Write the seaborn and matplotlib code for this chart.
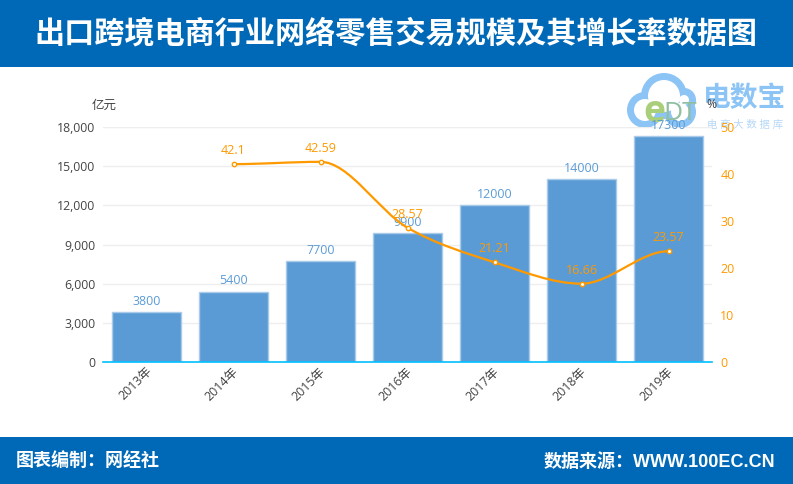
import matplotlib
matplotlib.use('Agg')
import matplotlib.pyplot as plt
from matplotlib.patches import Circle, PathPatch, Rectangle
from matplotlib.path import Path
from matplotlib.transforms import ScaledTranslation
import pandas as pd
import seaborn as sns

years = ['2013年', '2014年', '2015年', '2016年', '2017年', '2018年', '2019年']
trade_scale = [3800, 5400, 7700, 9900, 12000, 14000, 17300]
growth_years = [1, 2, 3, 4, 5, 6]
growth_rate = [42.1, 42.59, 28.57, 21.21, 16.66, 23.57]
growth_labels = ['42.1', '42.59', '28.57', '21.21', '16.66', '23.57']
left_ticks = [0, 3000, 6000, 9000, 12000, 15000, 18000]
right_ticks = [0, 10, 20, 30, 40, 50]

title = '出口跨境电商行业网络零售交易规模及其增长率数据图'
footer_left = '图表编制：网经社'
footer_right = '数据来源：WWW.100EC.CN'

W, H = 793, 484
BLUE = '#0069B7'
BAR = '#5B9BD5'
ORANGE = '#FF9900'
GREY = '#444444'
LABEL_FONT = ['Open Sans', 'Noto Sans CJK SC']
FOOT_FONT = ['Liberation Sans', 'Noto Sans CJK SC']

sns.set_theme(style='white')
plt.rcParams['font.family'] = LABEL_FONT


def smooth_path(xs, ys, k=0.33):
    # bezier through the points, flat at local peaks like the original line
    verts = [(xs[0], ys[0])]
    codes = [Path.MOVETO]
    tang = []
    for i in range(len(xs)):
        if i == 0 or i == len(xs) - 1:
            tang.append(0.0)
        elif (ys[i] - ys[i - 1]) * (ys[i + 1] - ys[i]) <= 0:
            tang.append(0.0)
        else:
            tang.append((ys[i + 1] - ys[i - 1]) / 2)
    for i in range(len(xs) - 1):
        dx = xs[i + 1] - xs[i]
        verts += [(xs[i] + k * dx, ys[i] + k * tang[i]),
                  (xs[i + 1] - k * dx, ys[i + 1] - k * tang[i + 1]),
                  (xs[i + 1], ys[i + 1])]
        codes += [Path.CURVE4] * 3
    return Path(verts, codes)


fig = plt.figure(figsize=(W / 100, H / 100), dpi=100, facecolor='white')

# page furniture and logo, in pixel coordinates
bg = fig.add_axes([0, 0, 1, 1], zorder=0)
bg.set_xlim(0, W)
bg.set_ylim(H, 0)
bg.axis('off')
bg.add_patch(Rectangle((0, 0), W, 67, color=BLUE, lw=0))
bg.add_patch(Rectangle((0, 437), W, 47, color=BLUE, lw=0))
bg.text(396, 33, title, color='white', fontsize=21.7, fontweight='bold', ha='center', va='center',
        family='Noto Sans CJK SC')
bg.text(16, 462, footer_left, color='white', fontsize=13, fontweight='bold', ha='left', va='center',
        family=FOOT_FONT)
bg.text(775, 462, footer_right, color='white', fontsize=13, fontweight='bold', ha='right', va='center',
        family=FOOT_FONT)
bg.text(92, 105, '亿元', color=GREY, fontsize=9, ha='left', va='center')

cloud = '#8CC4F5'
lobes = [(645, 110, 18), (664, 96, 23), (684, 100, 12), (680, 112, 16)]
for cx, cy, r in lobes:
    bg.add_patch(Circle((cx, cy), r, color=cloud, lw=0))
for cx, cy, r in lobes:
    bg.add_patch(Circle((cx, cy), r - 7, color='white', lw=0))
bg.add_patch(Rectangle((620, 127), 90, 8, color='white', lw=0))
bg.text(654, 112, 'e', color='#A9CF7A', fontsize=27, fontweight='bold', ha='center', va='center')
bg.text(680, 114, 'DT', color='#8FBFA0', fontsize=19, ha='center', va='center')
bg.text(745, 98, '电数宝', color=cloud, fontsize=20, fontweight='bold', ha='center', va='center',
        family='Noto Sans CJK SC')
bg.text(745, 125, '电 商 大 数 据 库', color='#B5D8F7', fontsize=7.5, ha='center', va='center')

# plot area, 18000 sits at y=127 and 0 at y=362
ax = fig.add_axes([103 / W, 1 - 362 / H, 609 / W, 235 / H], zorder=1)
ax.patch.set_alpha(0)
df = pd.DataFrame({'year': years, 'scale': trade_scale})
sns.barplot(data=df, x='year', y='scale', color=BAR, saturation=1, width=0.8,
            edgecolor='#A9CBEA', linewidth=1, ax=ax, zorder=2)
ax.set_xlim(-0.5, 6.5)
ax.set_ylim(0, 18000)
ax.set_yticks(left_ticks)
ax.set_yticklabels([f'{v:,}' for v in left_ticks])
ax.set_xlabel('')
ax.set_ylabel('')
ax.grid(axis='y', color='#EEEEEE', lw=1)
ax.set_axisbelow(True)
for side in ['top', 'left', 'right']:
    ax.spines[side].set_visible(False)
ax.spines['bottom'].set_color('#00BFFF')
ax.spines['bottom'].set_linewidth(1.2)
ax.spines['bottom'].set_zorder(5)
ax.tick_params(axis='y', length=0, pad=5.5, labelsize=8.8, labelcolor=GREY)
ax.tick_params(axis='x', length=0, pad=2, labelsize=9, labelcolor=GREY)
nudge = ScaledTranslation(-1 / 72, 0, fig.dpi_scale_trans)
for lab in ax.get_xticklabels():
    lab.set_rotation(45)
    lab.set_ha('right')
    lab.set_rotation_mode('anchor')
    lab.set_transform(lab.get_transform() + nudge)
for i, v in enumerate(trade_scale):
    ax.annotate(str(v), (i, v), xytext=(0, 3), textcoords='offset points',
                ha='center', va='bottom', color=BAR, fontsize=9, zorder=6)

ax2 = ax.twinx()
ax2.set_zorder(2)
ax2.patch.set_alpha(0)
ax2.set_ylim(0, 50)
ax2.set_yticks(right_ticks)
ax2.set_yticklabels([str(v) for v in right_ticks])
ax2.tick_params(axis='y', length=0, pad=6, labelsize=9, labelcolor=ORANGE)
ax2.set_ylabel('')
ax2.grid(False)
for side in ['top', 'left', 'right', 'bottom']:
    ax2.spines[side].set_visible(False)
ax2.add_patch(PathPatch(smooth_path(growth_years, growth_rate), fc='none', ec=ORANGE, lw=1.6, zorder=3))
sns.scatterplot(x=growth_years, y=growth_rate, s=10, color='white', edgecolor=ORANGE,
                linewidth=1.0, ax=ax2, zorder=4, clip_on=False)
ax2.set_xlim(-0.5, 6.5)
ax2.set_ylim(0, 50)
for x, y, s in zip(growth_years, growth_rate, growth_labels):
    ax2.annotate(s, (x, y), xytext=(0, 5), textcoords='offset points',
                 ha='center', va='bottom', color=ORANGE, fontsize=9, zorder=6)
bg.text(711, 104, '%', color=GREY, fontsize=8.8, ha='center', va='center')

fig.savefig('out.png', dpi=100)
plt.close(fig)
